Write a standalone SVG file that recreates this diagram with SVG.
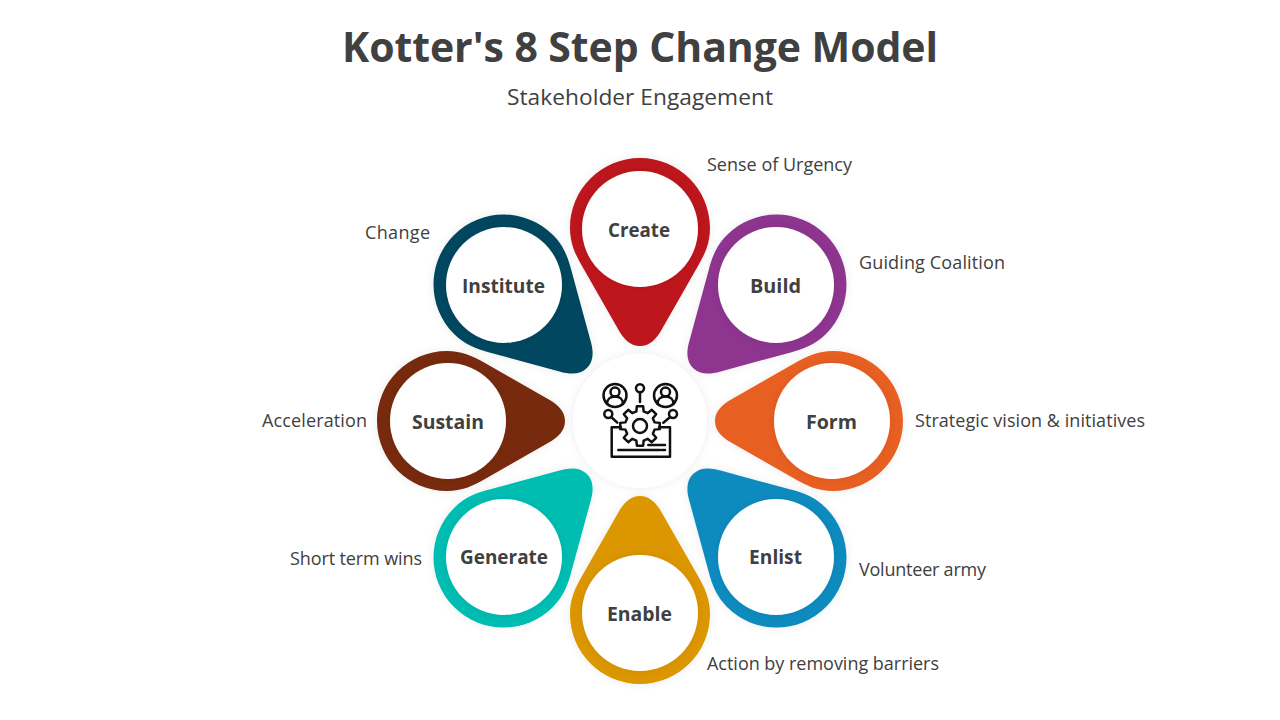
<svg xmlns="http://www.w3.org/2000/svg" width="1280" height="720" viewBox="0 0 1280 720">
<style>
text{font-family:"Open Sans","Noto Sans","Liberation Sans",sans-serif;fill:#404040}
.t{font-size:41px;font-weight:700;text-anchor:middle}
.s{font-size:22.7px;text-anchor:middle}
.l{font-size:18px}
.n{font-size:20px;font-weight:700;text-anchor:middle}
.w{fill:#fff;filter:url(#sh)}
.p{filter:url(#sh)}
.i{fill:none;stroke:#111;stroke-width:2.5;stroke-linejoin:round;stroke-linecap:round}
</style>
<defs>
<filter id="sh" x="-20%" y="-20%" width="140%" height="140%"><feDropShadow dx="0" dy="0" stdDeviation="4" flood-color="#000" flood-opacity="0.08"/></filter>
<path id="pin" d="M640 158C678.7 158 710 189.3 710 228C710 243 705 254 698 266L662 329C656 340 649 346 640 346C631 346 624 340 618 329L582 266C575 254 570 243 570 228C570 189.3 601.3 158 640 158Z"/>
</defs>
<rect width="1280" height="720" fill="#fff"/>
<text class="t" x="640" y="62" textLength="596">Kotter's 8 Step Change Model</text>
<text class="s" x="640" y="104.5" textLength="266">Stakeholder Engagement</text>
<g id="connectors"/>
<g id="node-create"><g class="p"><use href="#pin" fill="#BD141C"/></g><circle class="w" cx="640" cy="229" r="58"/><text class="n" x="639" y="237" textLength="62" lengthAdjust="spacingAndGlyphs">Create</text><text class="l" x="707" y="171" textLength="145">Sense of Urgency</text></g>
<g id="node-build"><g class="p"><use href="#pin" fill="#8E348F" transform="rotate(45 640 421)"/></g><circle class="w" cx="776" cy="285" r="58"/><text class="n" x="775.5" y="293" textLength="51" lengthAdjust="spacingAndGlyphs">Build</text><text class="l" x="859" y="269" textLength="146">Guiding Coalition</text></g>
<g id="node-form"><g class="p"><use href="#pin" fill="#E85F22" transform="rotate(90 640 421)"/></g><circle class="w" cx="832" cy="421" r="58"/><text class="n" x="831.5" y="429" textLength="51" lengthAdjust="spacingAndGlyphs">Form</text><text class="l" x="915" y="427" textLength="230">Strategic vision &amp; initiatives</text></g>
<g id="node-enlist"><g class="p"><use href="#pin" fill="#0C8BBF" transform="rotate(135 640 421)"/></g><circle class="w" cx="776" cy="557" r="58"/><text class="n" x="775.5" y="564" textLength="53" lengthAdjust="spacingAndGlyphs">Enlist</text><text class="l" x="859" y="576" textLength="127">Volunteer army</text></g>
<g id="node-enable"><g class="p"><use href="#pin" fill="#DC9600" transform="rotate(180 640 421)"/></g><circle class="w" cx="640" cy="613" r="58"/><text class="n" x="639.5" y="621" textLength="65" lengthAdjust="spacingAndGlyphs">Enable</text><text class="l" x="707" y="670" textLength="232">Action by removing barriers</text></g>
<g id="node-generate"><g class="p"><use href="#pin" fill="#00BDB2" transform="rotate(225 640 421)"/></g><circle class="w" cx="504" cy="557" r="58"/><text class="n" x="504" y="564" textLength="88" lengthAdjust="spacingAndGlyphs">Generate</text><text class="l" x="290" y="565" textLength="132">Short term wins</text></g>
<g id="node-sustain"><g class="p"><use href="#pin" fill="#772B0A" transform="rotate(270 640 421)"/></g><circle class="w" cx="448" cy="421" r="58"/><text class="n" x="448" y="429" textLength="72" lengthAdjust="spacingAndGlyphs">Sustain</text><text class="l" x="262" y="427" textLength="105">Acceleration</text></g>
<g id="node-institute"><g class="p"><use href="#pin" fill="#02475F" transform="rotate(315 640 421)"/></g><circle class="w" cx="504" cy="285" r="58"/><text class="n" x="503.5" y="293" textLength="83" lengthAdjust="spacingAndGlyphs">Institute</text><text class="l" x="365" y="239" textLength="65">Change</text></g>
<g id="node-center"><circle class="w" cx="640" cy="421" r="67"/>
<g class="i">
<circle cx="615" cy="395.5" r="11.5"/><circle cx="615" cy="392" r="4.5"/><path d="M607 404C607 399.5 610 396.5 615 396.5C620 396.5 623 399.5 623 404"/>
<circle cx="665.5" cy="395.5" r="11.5"/><circle cx="665.5" cy="392" r="4.5"/><path d="M657.5 404C657.5 399.5 660.5 396.5 665.5 396.5C670.5 396.5 673.5 399.5 673.5 404"/>
<circle cx="640" cy="388.3" r="4"/><path d="M640 392.3V402"/>
<circle cx="608.3" cy="414" r="4"/><path d="M611.2 417L617.3 422.7"/>
<circle cx="673" cy="414" r="4"/><path d="M670.2 417L663.3 422.7"/>
<path d="M621 427.3H611.7V456.7H670V427.3H659"/>
<path d="M618.3 450H660M662 450H665M648.3 445H665"/>
<circle cx="640" cy="426" r="7"/>
<path transform="translate(640 426)" d="M14.55 -3.63L19.75 -3.13L19.75 3.13L14.55 3.63L12.86 7.73L16.18 11.76L11.76 16.18L7.73 12.86L3.63 14.55L3.13 19.75L-3.13 19.75L-3.63 14.55L-7.73 12.86L-11.76 16.18L-16.18 11.76L-12.86 7.73L-14.55 3.63L-19.75 3.13L-19.75 -3.13L-14.55 -3.63L-12.86 -7.73L-16.18 -11.76L-11.76 -16.18L-7.73 -12.86L-3.63 -14.55L-3.13 -19.75L3.13 -19.75L3.63 -14.55L7.73 -12.86L11.76 -16.18L16.18 -11.76L12.86 -7.73Z"/>
</g></g>
</svg>
